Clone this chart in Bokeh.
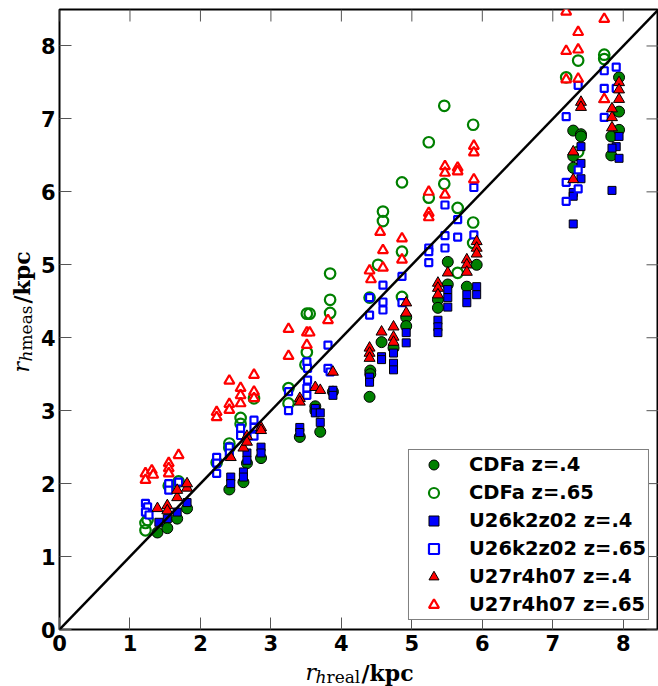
import math
from bokeh.plotting import figure
from bokeh.layouts import row, column
from bokeh.models import (Range1d, FixedTicker, LinearAxis, Legend, LegendItem,
                          Slope, Label)
from bokeh.embed import file_html
from bokeh.resources import INLINE

# ---------------- data ----------------
axis_ticks = [0, 1, 2, 3, 4, 5, 6, 7, 8]
axis_max = 8.5

series_labels = ["CDFa z=.4", "CDFa z=.65", "U26k2z02 z=.4",
                 "U26k2z02 z=.65", "U27r4h07 z=.4", "U27r4h07 z=.65"]

cdfa_04_x = [1.39, 1.53, 1.67, 1.81,
             2.41, 2.61, 2.66, 2.86,
             3.41, 3.63, 3.70, 3.63, 3.88,
             4.40, 4.41, 4.41, 4.57, 4.74, 4.92, 4.92,
             5.37, 5.37, 5.51, 5.51, 5.78, 5.92,
             7.94, 7.94, 7.29, 7.40, 7.40, 7.83, 7.94, 7.83, 7.29, 7.29]
cdfa_04_y = [1.33, 1.39, 1.52, 1.66,
             1.92, 2.02, 2.28, 2.35,
             2.64, 3.06, 2.71, 3.00, 3.26,
             3.19, 3.55, 3.50, 3.94, 3.86, 4.28, 4.16,
             4.52, 4.41, 5.04, 4.73, 4.70, 5.00,
             7.57, 7.10, 6.84, 6.79, 6.76, 6.76, 6.85, 6.50, 6.49, 6.33]

cdfa_065_x = [1.22, 1.22, 1.25, 1.55, 1.69,
              2.23, 2.41, 2.41, 2.57, 2.57, 2.76,
              3.25, 3.25, 3.51, 3.49, 3.51, 3.55, 3.84, 3.84, 3.84,
              4.40, 4.52, 4.59, 4.59, 4.86, 4.86, 4.86,
              5.24, 5.24, 5.46, 5.46, 5.65, 5.65, 5.87, 5.87, 5.87,
              7.36, 7.73, 7.73, 7.19, 7.36]
cdfa_065_y = [1.36, 1.46, 1.50, 1.97, 2.03,
              2.29, 2.55, 2.49, 2.90, 2.82, 3.17,
              3.31, 3.10, 3.80, 3.63, 4.33, 4.33, 4.52, 4.34, 4.88,
              4.55, 5.00, 5.73, 5.60, 6.13, 5.18, 4.56,
              5.92, 6.68, 7.18, 6.11, 4.89, 5.78, 6.92, 5.58, 5.30,
              7.80, 7.88, 7.82, 7.57, 6.55]

u26_04_x = [1.41, 1.53, 1.67, 1.81,
            2.43, 2.43, 2.61, 2.61, 2.66, 2.66, 2.86, 2.86,
            3.41, 3.41, 3.63, 3.63, 3.70, 3.70, 3.88, 3.88,
            4.40, 4.40, 4.57, 4.57, 4.74, 4.74, 4.74, 4.92, 4.92,
            5.37, 5.37, 5.37, 5.51, 5.51, 5.51, 5.78, 5.78, 5.92, 5.92,
            7.94, 7.94, 7.90, 7.84, 7.40, 7.40, 7.40, 7.29, 7.29, 7.29, 7.84]
u26_04_y = [1.47, 1.52, 1.61, 1.74,
            2.09, 2.00, 2.16, 2.09, 2.42, 2.32, 2.50, 2.42,
            2.77, 2.70, 3.03, 2.97, 2.97, 2.84, 3.28, 3.21,
            3.46, 3.39, 3.74, 3.70, 3.79, 3.65, 3.56, 4.07, 3.93,
            4.24, 4.15, 4.07, 4.66, 4.55, 4.42, 4.59, 4.48, 4.70, 4.59,
            6.76, 6.46, 6.62, 6.60, 6.62, 6.39, 6.18, 5.99, 5.94, 5.56, 6.02]

u26_065_x = [1.22, 1.25, 1.22, 1.27, 1.55, 1.55, 1.69,
             2.23, 2.23, 2.23, 2.41, 2.41, 2.57, 2.57, 2.76, 2.76, 2.76,
             3.25, 3.25, 3.51, 3.52, 3.52, 3.51, 3.51, 3.81, 3.81, 3.84,
             4.59, 4.59, 4.59, 4.86, 4.86, 4.40, 4.40,
             5.24, 5.24, 5.24, 5.47, 5.47, 5.65, 5.65, 5.88, 5.88, 5.47,
             7.36, 7.19, 7.73, 7.90, 7.73, 7.90, 7.73, 7.36, 7.19, 7.36, 7.19]
u26_065_y = [1.73, 1.68, 1.61, 1.57, 2.00, 1.91, 2.02,
             2.36, 2.28, 2.14, 2.50, 2.42, 2.76, 2.66, 2.87, 2.77, 2.65,
             3.26, 3.00, 3.67, 3.58, 3.42, 3.31, 3.21, 3.90, 3.58, 3.53,
             4.72, 4.49, 4.38, 4.84, 4.48, 4.55, 4.31,
             5.23, 5.18, 5.03, 5.40, 5.23, 5.38, 5.62, 5.41, 6.06, 5.82,
             7.46, 7.03, 7.66, 7.71, 7.42, 7.42, 7.02, 6.30, 6.13, 6.04, 5.87]

u27_04_x = [1.39, 1.53, 1.53, 1.67, 1.67, 1.81, 1.81,
            2.43, 2.61, 2.66, 2.66, 2.86, 2.86,
            3.41, 3.41, 3.63, 3.70, 3.88,
            4.40, 4.40, 4.40, 4.57, 4.74, 4.74, 4.74, 4.92, 4.92,
            5.37, 5.37, 5.37, 5.51, 5.78, 5.78, 5.78, 5.92, 5.92, 5.92,
            7.40, 7.40, 7.94, 7.94, 7.94, 7.84, 7.84, 7.84, 7.29, 7.29, 7.73]
u27_04_y = [1.66, 1.70, 1.63, 1.81, 1.91, 1.94, 2.00,
            2.36, 2.49, 2.65, 2.57, 2.77, 2.73,
            3.17, 3.12, 3.32, 3.28, 3.53,
            3.86, 3.79, 3.72, 4.08, 4.15, 4.01, 3.94, 4.48, 4.34,
            4.75, 4.68, 4.59, 4.89, 5.07, 5.00, 4.90, 5.32, 5.23, 5.15,
            7.23, 7.16, 7.50, 7.40, 7.27, 7.14, 7.02, 6.88, 6.55, 6.17, 7.27]

u27_065_x = [1.22, 1.22, 1.31, 1.33, 1.55, 1.55, 1.69, 1.55,
             2.23, 2.23, 2.41, 2.41, 2.41, 2.57, 2.57, 2.57, 2.76, 2.76, 2.76,
             3.25, 3.25, 3.51, 3.51, 3.55, 3.81,
             4.55, 4.59, 4.59, 4.86, 4.86, 4.40, 4.42,
             5.24, 5.24, 5.24, 5.47, 5.88, 5.88, 5.88, 5.47, 5.47, 5.65, 5.65,
             7.19, 7.73, 7.36, 7.19, 7.36, 7.19, 7.36, 7.73]
u27_065_y = [2.14, 2.05, 2.18, 2.12, 2.28, 2.21, 2.39, 2.14,
             2.98, 2.91, 3.41, 3.09, 3.01, 3.31, 3.21, 3.10, 3.49, 3.26, 3.17,
             4.12, 3.75, 4.07, 3.90, 4.07, 4.24,
             5.45, 5.20, 4.96, 5.36, 5.07, 4.92, 4.80,
             6.00, 5.71, 5.65, 5.96, 6.17, 6.63, 6.54, 6.35, 6.26, 6.33, 6.28,
             8.47, 8.37, 8.19, 7.93, 7.95, 7.54, 7.55, 7.27]

# ---------------- layout sizes ----------------
YT_W = 36          # strip holding the rotated y title
XT_H = 27          # strip holding the x title
TOTAL_W, TOTAL_H = 658, 686
MAIN_W = TOTAL_W - YT_W
MAIN_H = TOTAL_H - XT_H

# ---------------- main figure ----------------
p = figure(width=MAIN_W, height=MAIN_H, output_backend="svg", toolbar_location=None,
           title=None, x_range=Range1d(0, axis_max), y_range=Range1d(0, axis_max),
           min_border_left=23, min_border_right=0, min_border_top=9,
           min_border_bottom=30, x_axis_location=None, y_axis_location=None)
p.background_fill_color = "white"
p.border_fill_color = "white"
p.grid.visible = False
p.outline_line_color = "black"
p.outline_line_width = 2

ticker = FixedTicker(ticks=axis_ticks)
TICK_COLOR = "#555555"

def make_axis(standoff):
    ax = LinearAxis(ticker=ticker)
    ax.axis_line_color = None
    ax.major_tick_in = 12
    ax.major_tick_out = 0
    ax.major_tick_line_color = TICK_COLOR
    ax.major_tick_line_width = 1
    ax.minor_tick_line_color = None
    ax.major_label_text_font = "DejaVu Sans"
    ax.major_label_text_font_style = "bold"
    ax.major_label_text_font_size = "21px"
    ax.major_label_text_color = "black"
    ax.major_label_standoff = standoff
    return ax

p.add_layout(make_axis(5), "below")
p.add_layout(make_axis(4), "left")

# inner ticks on the top and right edges (matplotlib style)
n_t = len(axis_ticks)
p.ray(x=axis_ticks, y=[axis_max] * n_t, length=12, length_units="screen",
      angle=-math.pi / 2, line_color=TICK_COLOR, line_width=1)
p.ray(x=[axis_max] * n_t, y=axis_ticks, length=12, length_units="screen",
      angle=math.pi, line_color=TICK_COLOR, line_width=1)

# ---------------- scatter series ----------------
r1 = p.scatter(cdfa_04_x, cdfa_04_y, marker="circle", size=11,
               fill_color="green", line_color="black", line_width=1)
r2 = p.scatter(cdfa_065_x, cdfa_065_y, marker="circle", size=10.5,
               fill_alpha=0, line_color="green", line_width=2.2)
r3 = p.scatter(u26_04_x, u26_04_y, marker="square", size=8,
               fill_color="blue", line_color="black", line_width=1)
r4 = p.scatter(u26_065_x, u26_065_y, marker="square", size=7,
               fill_color="white", line_color="blue", line_width=2.2)
r5 = p.scatter(u27_04_x, u27_04_y, marker="triangle", size=11,
               fill_color="red", line_color="black", line_width=1)
r6 = p.scatter(u27_065_x, u27_065_y, marker="triangle", size=10,
               fill_color="white", line_color="red", line_width=2.2)

p.add_layout(Slope(gradient=1, y_intercept=0, line_color="black", line_width=2.5))

legend = Legend(items=[LegendItem(label=lab, renderers=[r])
                       for lab, r in zip(series_labels, [r1, r2, r3, r4, r5, r6])],
                location="bottom_right")
legend.margin = 9
legend.padding = 2
legend.spacing = 3
legend.glyph_width = 45
legend.glyph_height = 25
legend.label_height = 25
legend.label_standoff = 13
legend.label_text_font = "DejaVu Sans"
legend.label_text_font_style = "bold"
legend.label_text_font_size = "19.5px"
legend.label_text_color = "black"
legend.border_line_color = "black"
legend.border_line_width = 1
legend.background_fill_color = "white"
legend.background_fill_alpha = 1
p.add_layout(legend, "center")

# ---------------- title strips ----------------
SERIF = "DejaVu Serif"
MID = 0.346   # (ascent - descent) / 2 of DejaVu Serif, in em

def strip(w, h):
    f = figure(width=w, height=h, output_backend="svg", toolbar_location=None,
               title=None, x_range=Range1d(0, 1), y_range=Range1d(0, 1),
               min_border=0, x_axis_location=None, y_axis_location=None)
    f.grid.visible = False
    f.outline_line_color = None
    f.background_fill_color = "white"
    f.border_fill_color = "white"
    return f

def hlab(f, text, x, base, size, style):
    # base: baseline height above the strip bottom
    f.add_layout(Label(x=x, y=base + MID * size, x_units="screen", y_units="screen",
                       text=text, text_font=SERIF, text_font_size=f"{size}px",
                       text_font_style=style, text_color="black",
                       text_baseline="middle", text_align="left"))

def vlab(f, text, base, y, size, style):
    # base: baseline x position inside the strip, text reads bottom -> top
    f.add_layout(Label(x=base - MID * size, y=y, x_units="screen", y_units="screen",
                       text=text, text_font=SERIF, text_font_size=f"{size}px",
                       text_font_style=style, text_color="black",
                       text_baseline="middle", text_align="left",
                       angle=math.pi / 2))

# x title: r_{h real}/kpc  (x measured from the aligned plot frame)
xt = strip(MAIN_W, XT_H)
hlab(xt, "r", 246, 6, 22, "italic")
hlab(xt, "h", 256, 4, 17, "italic")
hlab(xt, "real", 267, 4, 17, "normal")
hlab(xt, "/kpc", 302, 6, 22, "bold")

# y title: r_{h meas}/kpc (rotated)
yt = strip(YT_W, TOTAL_H)
vlab(yt, "r", 29, 314, 22, "italic")
vlab(yt, "h", 31.5, 325, 17, "italic")
vlab(yt, "meas", 31.5, 336, 17, "normal")
vlab(yt, "/kpc", 29, 383, 22, "bold")

layout = row(yt, column(p, xt))
open("out.html", "w").write(file_html(layout, INLINE))
